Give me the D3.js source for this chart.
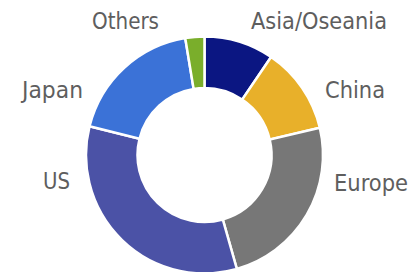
<!DOCTYPE html>
<html>
<head>
<meta charset="utf-8">
<script src="https://cdn.jsdelivr.net/npm/d3@7"></script>
<style>
  html, body { margin: 0; padding: 0; background: #fff; }
  svg { display: block; }
</style>
</head>
<body>
<div id="chart"></div>
<script>
const regions = ["Asia/Oseania", "China", "Europe", "US", "Japan", "Others"]
const shares = [9.5, 11.8, 24.3, 33.3, 18.5, 2.6]
const colors = ["#0b1682", "#e8b02a", "#777777", "#4b52a6", "#3b72d7", "#7aae2b"]

// where each label sits (x, baseline y, anchor)
const labelLayout = {
    "Asia/Oseania": [251, 29, "start"],
    "China": [325, 98, "start"],
    "Europe": [334, 191, "start"],
    "US": [70, 189, "end"],
    "Japan": [83, 98, "end"],
    "Others": [159, 29, "end"]
}
const labelWidth = {
    "Asia/Oseania": 136, "China": 60, "Europe": 74, "US": 27, "Japan": 61, "Others": 67
}

const W = 411, H = 272
const cx = 204.5, cy = 155
const rOuter = 118.5, rInner = 67

const svg = d3.select("#chart").append("svg")
    .attr("width", W)
    .attr("height", H)

const pie = d3.pie()
    .value(d => d.v)
    .sort(null)

const arc = d3.arc()
    .innerRadius(rInner)
    .outerRadius(rOuter)

const data = regions.map((name, i) => ({ name: name, v: shares[i], color: colors[i] }))

const g = svg.append("g")
    .attr("transform", `translate(${cx},${cy})`)

g.selectAll("path.slice")
    .data(pie(data))
    .enter().append("path")
    .attr("class", "slice")
    .attr("d", arc)
    .attr("fill", d => d.data.color)
    .attr("stroke", "#fff")
    .attr("stroke-width", 2.5)

svg.selectAll("text.label")
    .data(data)
    .enter().append("text")
    .attr("class", "label")
    .attr("x", d => labelLayout[d.name][0])
    .attr("y", d => labelLayout[d.name][1])
    .attr("text-anchor", d => labelLayout[d.name][2])
    .attr("textLength", d => labelWidth[d.name])
    .attr("lengthAdjust", "spacingAndGlyphs")
    .attr("font-family", "'DejaVu Sans Condensed', 'Liberation Sans Narrow', sans-serif")
    .attr("font-stretch", "condensed")
    .attr("font-size", 23.5)
    .attr("fill", "#5e5e5e")
    .text(d => d.name)
</script>
</body>
</html>
